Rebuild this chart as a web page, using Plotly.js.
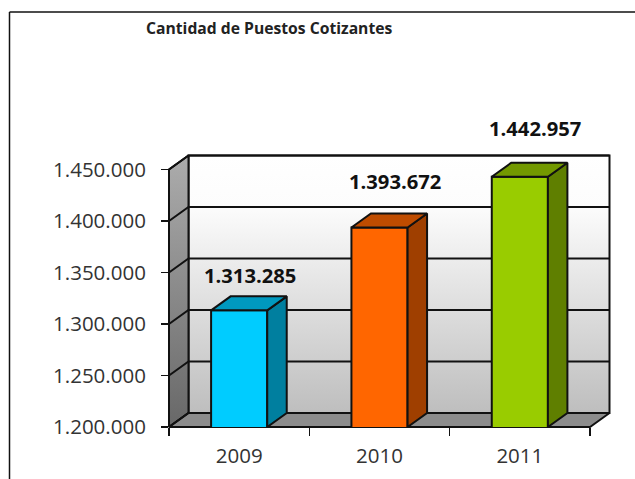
<!DOCTYPE html>
<html><head><meta charset="utf-8">
<script src="https://cdn.plot.ly/plotly-3.0.1.min.js"></script>
<style>html,body{margin:0;padding:0;background:#fff}</style></head>
<body><div id="chart" style="width:635px;height:479px"></div>
<script>
const categories = ['2009', '2010', '2011'];
const values = [1313285, 1393672, 1442957];
const frontColors = ['#00CCFF', '#FF6600', '#99CC00'];
const topColors = ['#0099BF', '#BF4C00', '#739900'];
const sideColors = ['#007F9F', '#9F3F00', '#5F7F00'];
const yMin = 1200000, yMax = 1450000;
const tickValues = [1200000, 1250000, 1300000, 1350000, 1400000, 1450000];
const labelShift = [35, 47, 49];
const labelXShift = [11, 15, 15];

const W = 635, H = 479;
const front = {l: 169, r: 590, t: 169.5, b: 427};
const depthPx = {x: 19.5, y: 14};
const pad = 3;
const n = categories.length;
const pxX = n / (front.r - front.l), pxY = (yMax - yMin) / (front.b - front.t);
const dx = depthPx.x * pxX, dy = depthPx.y * pxY;
const barW = 0.4;
const ink = '#111111';
const centers = categories.map((c, i) => i + 0.5);
const fmt = v => String(v).replace(/\B(?=(\d{3})+$)/g, '.');

function poly(x, y, color, axes, extra) {
  return Object.assign({type: 'scatter', mode: 'lines', x, y, fill: 'toself', fillcolor: color,
    line: {color: ink, width: 2}, hoverinfo: 'skip', showlegend: false,
    xaxis: axes[0], yaxis: axes[1]}, extra || {});
}
const back = ['x', 'y'], fr = ['x2', 'y2'];
const traces = [];
// back wall, left wall, floor (drawn in the padded backdrop axes)
traces.push(poly([dx, n + dx, n + dx, dx, dx], [yMin + dy, yMin + dy, yMax + dy, yMax + dy, yMin + dy], '#ffffff', back,
  {fillgradient: {type: 'vertical', colorscale: [[0, '#BEBEBE'], [0.8, '#FCFCFC'], [1, '#FFFFFF']]}}));
traces.push(poly([dx, dx, 0, 0, dx], [yMax + dy, yMin + dy, yMin, yMax, yMax + dy], '#999999', back,
  {fillgradient: {type: 'vertical', colorscale: [[0, '#686868'], [1, '#ACACAC']]}}));
traces.push(poly([dx, n + dx, n, 0, dx], [yMin + dy, yMin + dy, yMin, yMin, yMin + dy], '#8C8C8C', back));
// grid lines along the walls
const gx = [], gy = [];
tickValues.forEach(t => { gx.push(0, dx, n + dx, null); gy.push(t, t + dy, t + dy, null); });
traces.push({type: 'scatter', mode: 'lines', x: gx, y: gy, line: {color: ink, width: 2},
  hoverinfo: 'skip', showlegend: false, xaxis: 'x', yaxis: 'y'});
// front faces
traces.push({type: 'bar', x: centers, y: values, width: barW, xaxis: 'x2', yaxis: 'y2',
  marker: {color: frontColors, line: {color: ink, width: 2}}, hoverinfo: 'skip', showlegend: false});
// side and top faces
values.forEach((v, i) => {
  const x0 = centers[i] - barW / 2, x1 = centers[i] + barW / 2;
  traces.push(poly([x1, x1 + dx, x1 + dx, x1, x1], [v, v + dy, yMin + dy, yMin, v], sideColors[i], fr));
  traces.push(poly([x0, x1, x1 + dx, x0 + dx, x0], [v, v, v + dy, v + dy, v], topColors[i], fr));
});

const tickFont = {family: '"Open Sans", sans-serif', size: 20.5, color: '#333333'};
const boxRight = front.r + depthPx.x + pad, boxTop = front.t - depthPx.y - pad;
const layout = {
  width: W, height: H, margin: {l: 0, r: 0, t: 0, b: 0}, autosize: false,
  paper_bgcolor: '#ffffff', plot_bgcolor: 'rgba(0,0,0,0)', separators: ',.', showlegend: false,
  title: {text: 'Cantidad de Puestos Cotizantes', x: 146 / W, xanchor: 'left', y: 1 - 29 / H, yanchor: 'middle',
    font: {family: '"Open Sans", sans-serif', size: 15.7, weight: 700, color: '#222222'}},
  xaxis: {domain: [(front.l - pad) / W, boxRight / W], range: [-pad * pxX, (boxRight - front.l) * pxX], visible: false, fixedrange: true},
  yaxis: {domain: [1 - (front.b + pad) / H, 1 - boxTop / H], range: [yMin - pad * pxY, yMin + (front.b - boxTop) * pxY], visible: false, fixedrange: true},
  xaxis2: {domain: [front.l / W, boxRight / W], range: [0, (boxRight - front.l) * pxX], anchor: 'y2', tickmode: 'array', tickvals: centers, ticktext: categories,
    ticks: '', showgrid: false, zeroline: false, showline: false, tickfont: tickFont, ticklabelstandoff: 14,
    minor: {tickmode: 'array', tickvals: [0, 1, 2, 3], ticks: 'outside', ticklen: 8, tickwidth: 1.5, tickcolor: ink, showgrid: false}, fixedrange: true},
  yaxis2: {domain: [1 - front.b / H, 1 - boxTop / H], range: [yMin, yMin + (front.b - boxTop) * pxY], anchor: 'x2', tickmode: 'array', tickvals: tickValues,
    tickformat: ',d', ticks: 'outside', ticklen: 7, tickwidth: 1.5, tickcolor: ink, showgrid: false, zeroline: false,
    showline: false, tickfont: tickFont, ticklabelstandoff: 11, fixedrange: true},
  annotations: values.map((v, i) => ({xref: 'x2', yref: 'y2', x: centers[i], y: v, text: fmt(v), showarrow: false,
    xshift: labelXShift[i], yshift: labelShift[i], font: {family: '"Open Sans", sans-serif', size: 20.2, weight: 700, color: '#111111'}})),
  shapes: [
    {type: 'line', xref: 'paper', yref: 'paper', x0: 9.5 / W, x1: 9.5 / W, y0: 0, y1: 1 - 12 / H, line: {color: '#111111', width: 1.5}},
    {type: 'line', xref: 'paper', yref: 'paper', x0: 9.5 / W, x1: 1, y0: 1 - 12 / H, y1: 1 - 12 / H, line: {color: '#111111', width: 1.5}}
  ]
};
Plotly.newPlot('chart', traces, layout, {displayModeBar: false, staticPlot: true});
</script></body></html>
